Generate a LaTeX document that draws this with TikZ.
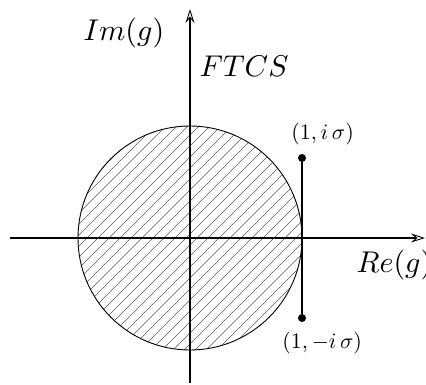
\documentclass[tikz,border=0pt]{standalone}
\usetikzlibrary{arrows.meta}
\tikzset{
  axis/.style={line width=1.1pt, -{Stealth[open, length=14pt, width=9pt, inset=5pt, line width=0.9pt]}},
  biglabel/.style={inner sep=0pt, anchor=base west, scale=3},
  smalllabel/.style={inner sep=0pt, anchor=base west, scale=2.2},
  hatch/.style={gray!70!black, line width=0.7pt},
  dot/.style={circle, fill=black, inner sep=0pt, minimum size=8pt},
  seg/.style={line width=2pt}
}
\begin{document}
\begin{tikzpicture}[x=1pt, y=-1pt]
\useasboundingbox (0,0) rectangle (426,385);
\coordinate (O) at (190,238);
% hatching inside circle
\begin{scope}
  \clip (O) circle (112);
  \foreach \c in {270,281,...,600} {
    \draw[hatch] (50,\c-50) -- (340,\c-340);
  }
\end{scope}
\draw[line width=0.9pt] (O) circle (112);
% axes
\coordinate (xl) at (10,238);
\coordinate (xr) at (425,238);
\coordinate (yb) at (190,383);
\coordinate (yt) at (190,9);
\draw[axis] (xl) -- (xr);
\draw[axis] (yb) -- (yt);
% segment
\node[dot] (p) at (302,158) {};
\node[dot] (m) at (302,318) {};
\draw[seg] (p.center) -- (m.center);
% labels
\node[biglabel] (im) at (83,40.5) {$Im(g)$};
\node[biglabel] (ftcs) at (199,77) {$FTCS$};
\node[biglabel] (re) at (356,272.5) {$Re(g)$};
\node[smalllabel] (lp) at (291,140) {$(1,i\,\sigma)$};
\node[smalllabel] (lm) at (282,348) {$(1,-i\,\sigma)$};
\end{tikzpicture}
\end{document}
